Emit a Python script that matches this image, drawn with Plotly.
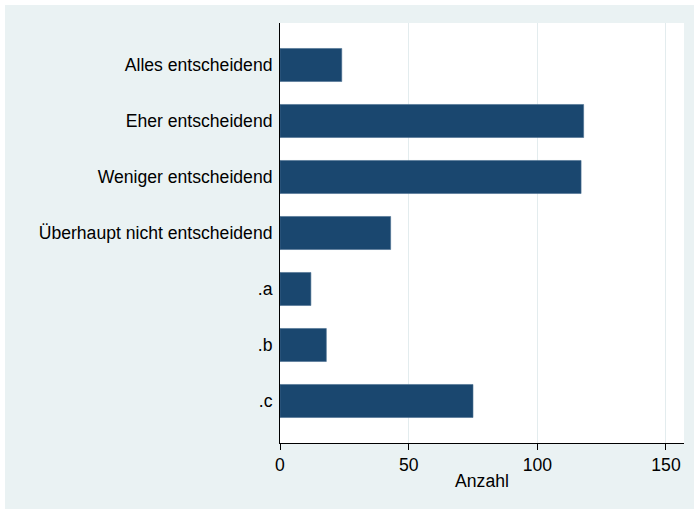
import plotly.graph_objects as go

categories = ["Alles entscheidend", "Eher entscheidend", "Weniger entscheidend",
              "Überhaupt nicht entscheidend", ".a", ".b", ".c"]
counts = [24, 118, 117, 43, 12, 18, 75]
x_ticks = [0, 50, 100, 150]

W, H = 694, 509
L, R, T, B = 280, 10, 23, 66
pw, ph = W - L - R, H - T - B

BG = "#EAF2F3"
BAR = "#1A476F"
FONT = "Liberation Sans, Arial, sans-serif"
FS = 17.6

fig = go.Figure(go.Bar(
    y=categories, x=counts, orientation="h",
    marker=dict(color=BAR, line=dict(color="#4A6E90", width=0.6)),
    width=0.59,
))

fig.update_layout(
    width=W, height=H,
    margin=dict(l=L, r=R, t=T, b=B, pad=0),
    paper_bgcolor=BG, plot_bgcolor="white",
    font=dict(family=FONT, size=FS, color="black"),
    showlegend=False,
)
fig.update_xaxes(
    range=[0, 157], tickvals=x_ticks, ticks="outside", ticklen=6, tickcolor="black",
    showline=True, linecolor="black", linewidth=1,
    showgrid=True, gridcolor="#E3ECEE", gridwidth=1, zeroline=False,
    title=dict(text="Anzahl", standoff=0, font=dict(size=FS)),
    tickfont=dict(size=FS),
)
fig.update_yaxes(
    categoryorder="array", categoryarray=categories,
    autorange=False, range=[6.75, -0.75],
    showline=True, linecolor="black", linewidth=1,
    ticks="", showgrid=False, zeroline=False,
    ticklabelstandoff=3, tickfont=dict(size=FS),
)

# white frame strips of the outer margin (left and top)
fig.add_shape(type="rect", xref="paper", yref="paper",
              x0=-L / pw, x1=(5 - L) / pw, y0=-B / ph, y1=1 + T / ph,
              fillcolor="white", line_width=0, layer="above")
fig.add_shape(type="rect", xref="paper", yref="paper",
              x0=-L / pw, x1=1 + R / pw, y0=1 + (T - 5) / ph, y1=1 + T / ph,
              fillcolor="white", line_width=0, layer="above")

fig.write_html("out.html", config={"displayModeBar": False},
               post_script="document.body.style.margin='0';document.body.style.overflow='hidden';")
